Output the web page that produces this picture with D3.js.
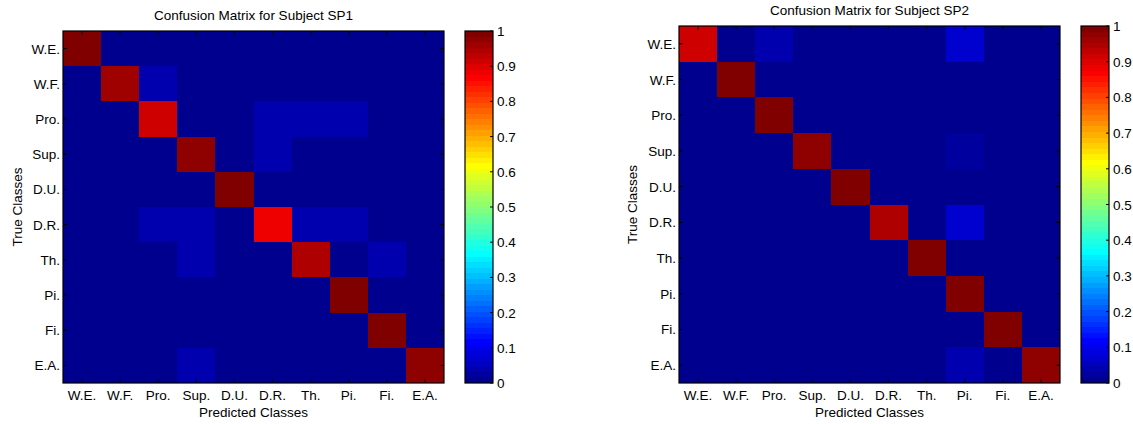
<!DOCTYPE html>
<html>
<head>
<meta charset="utf-8">
<script src="https://cdn.jsdelivr.net/npm/d3@7"></script>
<style>
  body { margin: 0; background: #fff; }
  svg { display: block; font-family: "Liberation Sans", Arial, sans-serif; }
  .lbl { font-size: 13.5px; fill: #000; }
  .cell { shape-rendering: crispEdges; }
</style>
</head>
<body>
<svg width="1133" height="424"></svg>
<script>
// class names (rows = true, cols = predicted)
const classes = ["W.E.", "W.F.", "Pro.", "Sup.", "D.U.", "D.R.", "Th.", "Pi.", "Fi.", "E.A."];

// confusion matrix, subject SP1
const sp1Values = [
  [1,    0,     0,     0,     0, 0,     0,     0,     0,     0   ],
  [0,    0.96,  0.04,  0,     0, 0,     0,     0,     0,     0   ],
  [0,    0,     0.91,  0,     0, 0.033, 0.033, 0.033, 0,     0   ],
  [0,    0,     0,     0.97,  0, 0.033, 0,     0,     0,     0   ],
  [0,    0,     0,     0,     1, 0,     0,     0,     0,     0   ],
  [0,    0,     0.033, 0.033, 0, 0.88,  0.033, 0.033, 0,     0   ],
  [0,    0,     0,     0.033, 0, 0,     0.94,  0,     0.033, 0   ],
  [0,    0,     0,     0,     0, 0,     0,     1,     0,     0   ],
  [0,    0,     0,     0,     0, 0,     0,     0,     1,     0   ],
  [0,    0,     0,     0.033, 0, 0,     0,     0,     0,     0.97]
];

// confusion matrix, subject SP2
const sp2Values = [
  [0.91, 0, 0.033, 0,    0, 0,    0, 0.065, 0, 0   ],
  [0,    1, 0,     0,    0, 0,    0, 0,     0, 0   ],
  [0,    0, 1,     0,    0, 0,    0, 0,     0, 0   ],
  [0,    0, 0,     0.97, 0, 0,    0, 0.03,  0, 0   ],
  [0,    0, 0,     0,    1, 0,    0, 0,     0, 0   ],
  [0,    0, 0,     0,    0, 0.94, 0, 0.065, 0, 0   ],
  [0,    0, 0,     0,    0, 0,    1, 0,     0, 0   ],
  [0,    0, 0,     0,    0, 0,    0, 1,     0, 0   ],
  [0,    0, 0,     0,    0, 0,    0, 0,     1, 0   ],
  [0,    0, 0,     0,    0, 0,    0, 0.033, 0, 0.97]
];

const colorbarTicks = [0, 0.1, 0.2, 0.3, 0.4, 0.5, 0.6, 0.7, 0.8, 0.9, 1];

// MATLAB jet(64)
function jet(m) {
  const n = Math.ceil(m / 4);
  const u = [];
  for (let i = 1; i <= n; i++) u.push(i / n);
  for (let i = 1; i < n; i++) u.push(1);
  for (let i = n; i >= 1; i--) u.push(i / n);
  const off = Math.ceil(n / 2) - (m % 4 === 1 ? 1 : 0);
  const out = [];
  for (let k = 1; k <= m; k++) {
    const pick = j => (j >= 1 && j <= u.length) ? u[j - 1] : 0;
    const r = pick(k - off - n), g = pick(k - off), b = pick(k - off + n);
    out.push(d3.rgb(r * 255, g * 255, b * 255).formatHex());
  }
  return out;
}
const jet64 = jet(64);
const color = d3.scaleQuantize().domain([0, 1]).range(jet64);

const svg = d3.select("svg");

function drawPanel(values, title, box, cb, yLabelX, titleY) {
  const x = d3.scaleBand().domain(classes).range([box.x, box.x + box.w]);
  const y = d3.scaleBand().domain(classes).range([box.y, box.y + box.h]);
  const g = svg.append("g");

  // cells
  values.forEach((row, i) => {
    row.forEach((v, j) => {
      const x0 = Math.round(x(classes[j])), x1 = Math.round(x(classes[j]) + x.bandwidth());
      const y0 = Math.round(y(classes[i])), y1 = Math.round(y(classes[i]) + y.bandwidth());
      g.append("rect").attr("class", "cell")
        .attr("x", x0).attr("y", y0)
        .attr("width", x1 - x0).attr("height", y1 - y0)
        .attr("fill", color(v));
    });
  });

  // ticks (inside, all four sides)
  const tl = 4;
  classes.forEach(c => {
    const cx = x(c) + x.bandwidth() / 2;
    const cy = y(c) + y.bandwidth() / 2;
    g.append("line").attr("x1", cx).attr("x2", cx).attr("y1", box.y + box.h).attr("y2", box.y + box.h - tl).attr("stroke", "#000");
    g.append("line").attr("x1", cx).attr("x2", cx).attr("y1", box.y).attr("y2", box.y + tl).attr("stroke", "#000");
    g.append("line").attr("y1", cy).attr("y2", cy).attr("x1", box.x).attr("x2", box.x + tl).attr("stroke", "#000");
    g.append("line").attr("y1", cy).attr("y2", cy).attr("x1", box.x + box.w).attr("x2", box.x + box.w - tl).attr("stroke", "#000");

    g.append("text").attr("class", "lbl")
      .attr("x", cx).attr("y", box.y + box.h + 17)
      .attr("text-anchor", "middle").text(c);
    g.append("text").attr("class", "lbl")
      .attr("x", box.x - 3).attr("y", cy + 5)
      .attr("text-anchor", "end").text(c);
  });

  g.append("rect")
    .attr("x", box.x).attr("y", box.y)
    .attr("width", box.w).attr("height", box.h)
    .attr("fill", "none").attr("stroke", "#000").attr("stroke-width", 1.2);

  // titles and axis labels
  g.append("text").attr("class", "lbl")
    .attr("x", box.x + box.w / 2).attr("y", titleY)
    .attr("text-anchor", "middle").text(title);
  g.append("text").attr("class", "lbl")
    .attr("x", box.x + box.w / 2).attr("y", box.y + box.h + 34)
    .attr("text-anchor", "middle").text("Predicted Classes");
  g.append("text").attr("class", "lbl")
    .attr("transform", `translate(${yLabelX},${box.y + box.h / 2}) rotate(-90)`)
    .attr("text-anchor", "middle").text("True Classes");

  // colorbar
  const cy = d3.scaleLinear().domain([0, 1]).range([box.y + box.h, box.y]);
  jet64.forEach((c, i) => {
    const y0 = Math.round(cy((i + 1) / 64)), y1 = Math.round(cy(i / 64));
    g.append("rect").attr("class", "cell")
      .attr("x", cb.x).attr("width", cb.w)
      .attr("y", y0).attr("height", y1 - y0)
      .attr("fill", c);
  });
  g.append("rect")
    .attr("x", cb.x).attr("y", box.y)
    .attr("width", cb.w).attr("height", box.h)
    .attr("fill", "none").attr("stroke", "#000").attr("stroke-width", 1.2);
  colorbarTicks.forEach(t => {
    g.append("line")
      .attr("x1", cb.x + cb.w).attr("x2", cb.x + cb.w - 3)
      .attr("y1", cy(t)).attr("y2", cy(t)).attr("stroke", "#000");
    g.append("text").attr("class", "lbl")
      .attr("x", cb.x + cb.w + 4).attr("y", cy(t) + 5)
      .text(t);
  });
}

drawPanel(sp1Values, "Confusion Matrix for Subject SP1",
  { x: 63, y: 31, w: 381, h: 352 }, { x: 465, w: 28 }, 22, 20);
drawPanel(sp2Values, "Confusion Matrix for Subject SP2",
  { x: 679, y: 26, w: 381, h: 357 }, { x: 1081, w: 28 }, 637, 15);
</script>
</body>
</html>
